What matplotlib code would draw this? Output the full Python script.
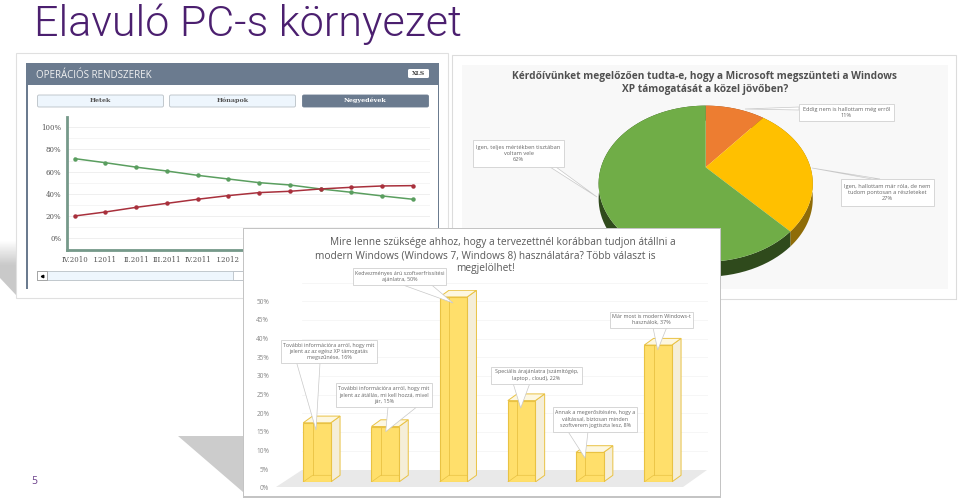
import numpy as np
import matplotlib
matplotlib.use("Agg")
import matplotlib.pyplot as plt
from matplotlib.patches import Rectangle, Polygon, FancyBboxPatch

W, H = 960, 503

# operating systems line chart
quarters = ["IV.2010", "I.2011", "II.2011", "III.2011", "IV.2011", "I.2012"]
green_share = [71.7, 68, 64, 60.5, 56.6, 53.3, 50, 47.9, 44.3, 41.3, 38, 35]
red_share = [19.9, 23.5, 27.7, 31.3, 35, 38.3, 41, 42.2, 44.3, 45.8, 47, 47.3]
share_ticks = [0, 20, 40, 60, 80, 100]
period_buttons = ["Hetek", "Hónapok", "Negyedévek"]

# pie chart
pie_values = [11, 27, 62]
pie_colors = ["#ed7d31", "#ffc000", "#70ad47"]
pie_sides = ["#8a4a1c", "#8f6c08", "#2f4a1c"]
pie_title = "Kérdőívünket megelőzően tudta-e, hogy a Microsoft megszünteti a Windows\nXP támogatását a közel jövőben?"

# 3d bar chart
bar_values = [16, 15, 50, 22, 8, 37]
bar_ticks = [0, 5, 10, 15, 20, 25, 30, 35, 40, 45, 50]
bar_title = ["Mire lenne szüksége ahhoz, hogy a tervezettnél korábban tudjon átállni a",
             "modern Windows (Windows 7, Windows 8) használatára? Több választ is",
             "megjelölhet!"]
bar_notes = [
    "További információra arról, hogy mit\njelent az az egész XP támogatás\nmegszűnése, 16%",
    "További információra arról, hogy mit\njelent az átállás, mi kell hozzá, mivel\njár, 15%",
    "Kedvezményes árú szoftverfrissítési\najánlatra, 50%",
    "Speciális árajánlatra (számítógép,\nlaptop , cloud), 22%",
    "Annak a megerősítésére, hogy a\nváltással, biztosan minden\nszoftverem jogtiszta lesz, 8%",
    "Már most is modern Windows-t\nhasználok, 37%",
]

fig = plt.figure(figsize=(W / 100, H / 100), dpi=100, facecolor="white")


def px_axes(x0, y0, x1, y1, z):
    ax = fig.add_axes([x0 / W, 1 - y1 / H, (x1 - x0) / W, (y1 - y0) / H], zorder=z)
    ax.patch.set_alpha(0)
    return ax


def page_axes(z):
    ax = px_axes(0, 0, W, H, z)
    ax.set_xlim(0, W)
    ax.set_ylim(H, 0)
    ax.axis("off")
    return ax


def callout(ax, x, y, w, h, text, tail, size=3.85):
    # box plus a thin wedge pointing to the mark
    ax.add_patch(Polygon(tail, closed=True, fc="white", ec="#c8c8c8", lw=0.5, zorder=8))
    ax.add_patch(Rectangle((x, y), w, h, fc="white", ec="#d0d0d0", lw=0.6, zorder=9))
    ax.text(x + w / 2, y + h / 2, text, ha="center", va="center", fontsize=size,
            color="#666666", zorder=10, linespacing=1.35, family="Open Sans")


# page layer in pixel coordinates
page = page_axes(0)
fade = np.ones((40, 2, 4))
fade[:, :, :3] = 0.79
fade[:, :, 3] = np.clip(np.linspace(0, 2.2, 40), 0, 1)[:, None]
shade = page.imshow(fade, extent=(0, 16, 295, 240), aspect="auto", zorder=1)
shade.set_clip_path(Polygon([(0, 240), (16, 240), (16, 295), (0, 278)], transform=page.transData))
page.set_xlim(0, W)
page.set_ylim(H, 0)
page.add_patch(Polygon([(178, 436), (243, 436), (243, 492)], fc="#cccccc", ec="none"))
title = page.text(34.5, 36, "Elavuló PC-s környezet", fontsize=35.5, color="#4b1f6f", family="Roboto",
                  weight=300, ha="left", va="baseline")
title_w = title.get_window_extent(fig.canvas.get_renderer()).width
title.set_fontsize(35.5 * 427 / title_w)
page.text(31, 484, "5", fontsize=7.5, color="#6b3f8a", family="Open Sans")

# panel 1: frame and header
p1 = page_axes(1)
p1.add_patch(Rectangle((17, 54), 432, 245, fc="#a8a8a8", ec="none"))
p1.add_patch(Rectangle((16, 53), 432, 245, fc="white", ec="#e0e0e0", lw=0.8))
p1.add_patch(Rectangle((26, 63), 413, 226, fc="#6b7b8f", ec="none"))
p1.add_patch(Rectangle((27.5, 85), 410, 205, fc="white", ec="none"))
p1.text(36, 75, "OPERÁCIÓS RENDSZEREK", fontsize=7, color="#f2f2f2", va="center", family="Open Sans")
p1.add_patch(FancyBboxPatch((408, 69), 21, 9, boxstyle="round,pad=0,rounding_size=1.5", fc="white", ec="none"))
p1.text(418.5, 73.5, "XLS", fontsize=4.3, color="#444444", ha="center", va="center", weight="bold", family="DejaVu Serif")
button_left = [37.5, 169.5, 302.5]
for i, name in enumerate(period_buttons):
    on = i == 2
    p1.add_patch(FancyBboxPatch((button_left[i], 95), 126, 12, boxstyle="round,pad=0,rounding_size=1.5",
                                fc="#6b7b8f" if on else "#eef6fd", ec="#6b7b8f" if on else "#b9c0c6", lw=0.6))
    p1.text(button_left[i] + 63, 100.5, name, fontsize=4.6, weight="bold", ha="center", va="center",
            color="white" if on else "#555555", family="DejaVu Serif")
# scrollbar
p1.add_patch(Rectangle((37, 271), 300, 9, fc="#eef6fd", ec="#b9c0c6", lw=0.6))
p1.add_patch(Rectangle((37, 271), 10, 9, fc="white", ec="#9a9a9a", lw=0.6))
p1.plot([42], [275.5], marker="<", ms=1.8, color="black")
p1.add_patch(Rectangle((233, 271), 12, 9, fc="white", ec="#b9c0c6", lw=0.6))

# panel 1: line chart
x_first, x_step = 74.7, 30.73
ax1 = px_axes(67, 117, 430, 250, 2)
ax1.set_xlim((67 - x_first) / x_step, (430 - x_first) / x_step)
ax1.set_ylim((238 - 250) / 1.107, (238 - 117) / 1.107)
for v in np.arange(-10, 110, 10):
    ax1.axhline(v, color="#f1f1f1" if v % 20 else "#e9e9e9", lw=0.5, zorder=1)
ax1.plot(range(12), green_share, color="#5a9e5f", lw=1.1, marker="o", ms=2.2, zorder=3)
ax1.plot(range(12), red_share, color="#a8303c", lw=1.1, marker="o", ms=2.2, zorder=3)
ax1.set_yticks(share_ticks)
ax1.set_yticklabels([f"{t}%" for t in share_ticks], fontsize=5, color="#555555", family="DejaVu Serif")
ax1.set_xticks(range(len(quarters)))
ax1.set_xticklabels(quarters, fontsize=5, color="#555555", family="DejaVu Serif")
ax1.set_xticks(np.arange(12) + 0.5, minor=True)
ax1.tick_params(length=0, pad=4)
ax1.tick_params(axis="x", which="minor", length=3, width=0.7, color="white", direction="inout")
for s in ["top", "right"]:
    ax1.spines[s].set_visible(False)
ax1.spines["left"].set_color("#76998a")
ax1.spines["left"].set_linewidth(2)
ax1.spines["bottom"].set_color("#76998a")
ax1.spines["bottom"].set_linewidth(2)

# panel 2: pie
p2 = page_axes(3)
p2.add_patch(Rectangle((453, 56), 504, 244, fc="#a0a0a0", ec="none"))
p2.add_patch(Rectangle((452, 55), 504, 244, fc="white", ec="#dcdcdc", lw=0.8))
p2.add_patch(Rectangle((462, 65), 486, 224, fc="#f8f8f8", ec="none"))
p2.text(705, 83, pie_title, fontsize=7.3, weight="bold", color="#505050", ha="center", va="center",
        family="Open Sans", linespacing=1.3)

# the pie is seen in perspective, so the apex sits above the middle of the ellipse
k, sx, sy, apex_x, apex_y, depth = 0.21, 104.7, 74.6, 705.7, 167.3, 15


def rim(a0, a1):
    t = np.radians(np.linspace(a0, a1, 80))
    x, y = np.sin(t), np.cos(t)
    w = 1 + k * y
    return apex_x + sx * x / w, apex_y - sy * y / w


ends = np.cumsum(pie_values) / sum(pie_values) * 360
starts = np.r_[0, ends[:-1]]
for a0, a1, c in zip(starts, ends, pie_sides):
    rx, ry = rim(a0, a1)
    p2.fill(np.r_[rx, rx[::-1]], np.r_[ry, ry[::-1] + depth], color=c, lw=0, zorder=2)
for a0, a1, c in zip(starts, ends, pie_colors):
    rx, ry = rim(a0, a1)
    p2.fill(np.r_[apex_x, rx], np.r_[apex_y, ry], color=c, lw=0, zorder=3)

callout(p2, 799, 104, 95, 17, "Eddig nem is hallottam még erről\n11%", [(745, 109), (799, 107), (799, 110)], 4.1)
callout(p2, 473, 140, 91, 27, "Igen, teljes mértékben tisztában\nvoltam vele\n62%", [(550, 167), (597, 197), (556, 167)], 4.1)
callout(p2, 841, 179, 93, 27, "Igen, hallottam már róla, de nem\ntudom pontosan a részleteket\n27%", [(812, 168), (872, 179), (880, 179)], 4.1)

# panel 3: frame
p3 = page_axes(5)
p3.add_patch(Rectangle((243, 228), 478, 270, fc="#c4c4c4", ec="none"))
p3.add_patch(Rectangle((244, 229), 475.5, 267.5, fc="white", ec="none"))
for line, cx, cy in zip(bar_title, [503, 485, 485], [242, 255.5, 269]):
    p3.text(cx, cy, line, fontsize=7.25, color="#595959", ha="center", va="center", family="Open Sans")
p3.add_patch(Polygon([(276, 487), (302, 470), (707, 470), (683, 487)], fc="#e9e9e9", ec="none"))

# back wall scale with tick labels
px_per_pct = 3.735
ax3 = px_axes(272, 280, 708, 488, 6)
ax3.set_xlim(272, 708)
ax3.set_ylim(0, 208 / px_per_pct)
ax3.set_yticks(bar_ticks)
ax3.set_yticklabels([f"{t}%" for t in bar_ticks], fontsize=4.7, color="#8a8a8a", family="Open Sans")
ax3.tick_params(length=0, pad=2)
for v in bar_ticks[1:]:
    ax3.plot([302, 708], [v + 5, v + 5], color="#f3f3f3", lw=0.5)
for s in ax3.spines.values():
    s.set_visible(False)
ax3.set_xticks([])

# bars on the front plane, 27.5 px wide and 68.2 px apart
bx = px_axes(262, 290, 706, 482, 7)
bar_step = 68.2
bx.set_xlim((262 - 317) / bar_step, (706 - 317) / bar_step)
bx.set_ylim(0, 192 / 3.7)
bx.axis("off")
bw = 27.5 / bar_step
dx, dy = 9.3 / bar_step, 6.7 / 3.7
edge = "#e9c243"
for i, v in enumerate(bar_values):
    r, l = i + bw / 2, i - bw / 2
    bx.add_patch(Polygon([(r, 0), (r + dx, dy), (r + dx, v + dy), (r, v)], fc="#f5eed8", ec=edge, lw=0.7, zorder=2))
    bx.add_patch(Polygon([(l, v), (l + dx, v + dy), (r + dx, v + dy), (r, v)], fc="#fdf7e0", ec=edge, lw=0.7, zorder=2))
    bx.bar(i, v, width=bw, color="#ffdf6b", edgecolor=edge, lw=0.8, zorder=3)
    bx.plot([l + dx, l + dx], [dy, v], color=edge, lw=0.6, zorder=4)
    bx.plot([l, l + dx, r], [0, dy, dy], color=edge, lw=0.5, zorder=4)

# callouts on top of the bars, page coordinates
top = page_axes(8)
callout(top, 281, 340, 96, 23, bar_notes[0], [(296.7, 363), (316, 430), (320, 363)])
callout(top, 336, 383, 96, 24, bar_notes[1], [(388, 407), (385.7, 431.7), (416.7, 407)])
callout(top, 353, 268, 93, 17, bar_notes[2], [(403, 285), (453, 303), (431.7, 285)])
callout(top, 491, 366.5, 91, 17, bar_notes[3], [(513, 383), (520.7, 408), (530, 383)])
callout(top, 553, 406.5, 84, 25, bar_notes[4], [(568, 431.5), (585, 458), (588, 431.5)])
callout(top, 610, 311.5, 83, 16, bar_notes[5], [(653, 327.5), (657.7, 350), (666.7, 327.5)])

fig.savefig("out.png", dpi=100)
